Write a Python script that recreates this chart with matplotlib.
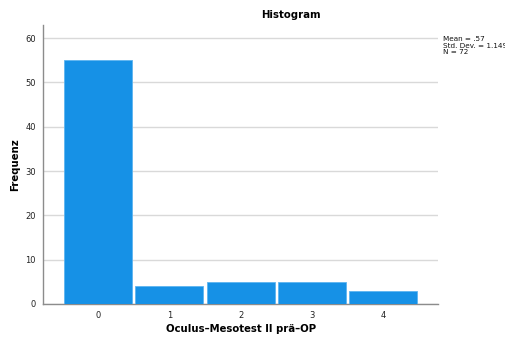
import matplotlib
matplotlib.use("Agg")
import matplotlib.pyplot as plt

# Score values and their frequencies
scores = [0, 1, 2, 3, 4]
counts = [55, 4, 5, 5, 3]
y_ticks = [0, 10, 20, 30, 40, 50, 60]
stats_lines = ["Mean = .57", "Std. Dev. = 1.149", "N = 72"]

plt.rcParams["font.family"] = ["DejaVu Sans"]

fig = plt.figure(figsize=(5.06, 3.40), dpi=100)
ax = fig.add_axes([0.085, 0.106, 0.781, 0.821])

ax.bar(scores, counts, width=0.955, color="#1691E6", edgecolor="#5DB4F0",
       linewidth=0.6, zorder=3)

ax.set_xlim(-0.77, 4.77)
ax.set_ylim(0, 63)
ax.set_yticks(y_ticks)
ax.set_xticks(scores)
ax.tick_params(axis="both", length=0, labelsize=6, colors="#222222", pad=5)
ax.yaxis.grid(True, color="#D9D9D9", linewidth=1, zorder=0)

for side in ["top", "right"]:
    ax.spines[side].set_visible(False)
for side in ["left", "bottom"]:
    ax.spines[side].set_color("#8C8C8C")
    ax.spines[side].set_linewidth(1)

fig.text(291 / 506, 1 - 15 / 340, "Histogram", fontsize=7.3, fontweight="bold",
         ha="center", va="center")
ax.set_ylabel("Frequenz", fontsize=7.3, fontweight="bold")
ax.set_xlabel("Oculus\u2013Mesotest II prä\u2013OP", fontsize=7.3, fontweight="bold")
ax.yaxis.set_label_coords(-23 / 395, 0.5)
ax.xaxis.set_label_coords(0.5, -20 / 279)

fig.text(443 / 506, 1 - 36 / 340, "\n".join(stats_lines), fontsize=5.2,
         va="top", ha="left", linespacing=1.1, color="#111111")

fig.savefig("out.png", dpi=100)
